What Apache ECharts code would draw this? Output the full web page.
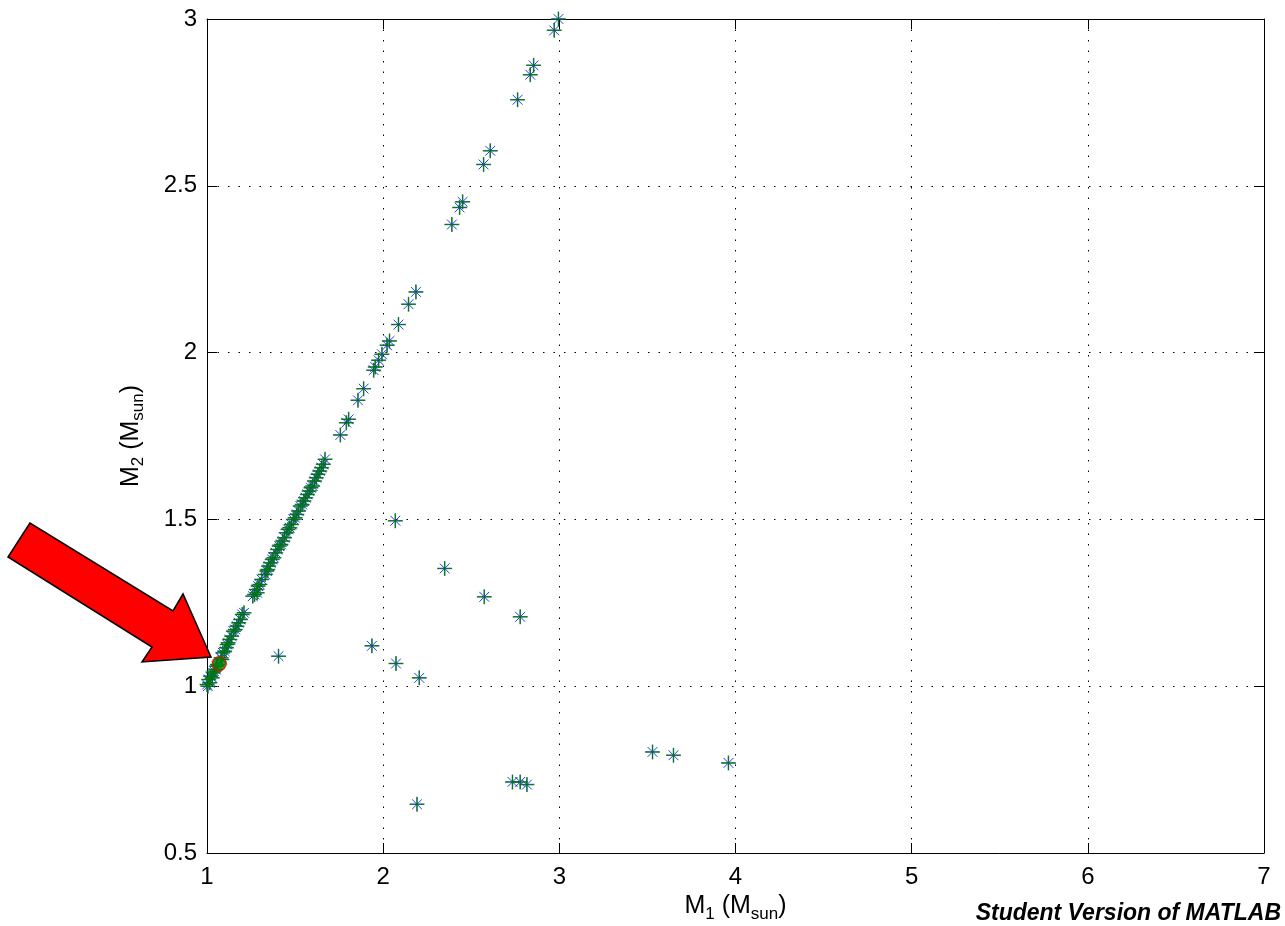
<!DOCTYPE html>
<html>
<head>
<meta charset="utf-8">
<script src="https://cdn.jsdelivr.net/npm/echarts@6/dist/echarts.min.js"></script>
<style>
html,body{margin:0;padding:0;background:#fff;}
#chart{width:1285px;height:926px;}
</style>
</head>
<body>
<div id="chart"></div>
<script>
// ---- data (M1, M2 in solar masses) ----
// dense band near the diagonal M2 ~ M1
var bandM1 = [1.00,1.005,1.01,1.015,1.02,1.03,1.035,1.04,1.05,1.055,1.06,1.08,1.085,1.09,1.10,1.11,1.115,1.12,1.13,1.14,1.15,1.16,1.17,1.18,1.19,1.20,1.21,
              1.26,1.27,1.28,1.285,1.29,1.30,1.31,1.33,1.34,1.345,1.35,1.36,1.37,1.38,1.39,1.40,1.41,1.42,1.43,1.44,1.45,1.46,1.47,1.48,1.49,1.50,1.51,1.52,1.53,1.54,1.55,1.56,1.57,1.58,1.59,1.60,1.61,1.62,1.63,1.64,1.65,1.66,1.67];
var bandM2 = [1.005,1.00,1.02,1.01,1.03,1.025,1.04,1.045,1.05,1.06,1.065,1.085,1.08,1.10,1.105,1.115,1.125,1.13,1.14,1.15,1.165,1.17,1.18,1.19,1.20,1.215,1.22,
              1.27,1.275,1.29,1.28,1.30,1.305,1.32,1.335,1.345,1.35,1.36,1.37,1.38,1.385,1.40,1.41,1.42,1.425,1.435,1.445,1.46,1.47,1.475,1.485,1.50,1.505,1.515,1.525,1.54,1.545,1.555,1.565,1.575,1.585,1.595,1.60,1.615,1.625,1.635,1.645,1.655,1.665,1.68];
// sparse points continuing the diagonal
var diagM1 = [2.995,2.971,2.854,2.835,2.763,2.608,2.570,2.451,2.434,2.390,2.186,2.144,2.087,2.036,2.022,1.993,1.974,1.955,1.946,1.889,1.857,1.804,1.791,1.757];
var diagM2 = [3.000,2.966,2.861,2.833,2.758,2.605,2.564,2.452,2.435,2.384,2.182,2.145,2.084,2.035,2.022,1.995,1.977,1.957,1.947,1.892,1.857,1.800,1.790,1.753];
// points off the diagonal
var offM1 = [1.406,1.936,2.069,2.349,2.574,2.778,2.073,2.205,2.734,2.778,2.816,2.192,3.529,3.648,3.960];
var offM2 = [1.090,1.121,1.496,1.353,1.268,1.208,1.068,1.025,0.713,0.713,0.705,0.646,0.803,0.793,0.770];
// highlighted system
var markM1 = [1.07];
var markM2 = [1.068];

var xTicks = {min: 1, max: 7, interval: 1};
var yTicks = {min: 0.5, max: 3, interval: 0.5};

// ---- build ----
function pairs(a, b) { var r = []; for (var i = 0; i < a.length; i++) r.push([a[i], b[i]]); return r; }
var allPts = pairs(bandM1, bandM2).concat(pairs(diagM1, diagM2)).concat(pairs(offM1, offM2));

var FONT = '"Liberation Sans", Arial, Helvetica, sans-serif';
var gridLine = {show: true, lineStyle: {color: '#000', width: 1, type: [1.5, 9]}};
var axLine = {show: true, lineStyle: {color: '#000', width: 1}};
var tick = {show: true, inside: true, length: 10, lineStyle: {color: '#000', width: 1}};
var nameRich = {
  a: {fontSize: 25, fontFamily: FONT, color: '#000', lineHeight: 32},
  s: {fontSize: 17, fontFamily: FONT, color: '#000', lineHeight: 12, verticalAlign: 'bottom'}
};

var chart = echarts.init(document.getElementById('chart'), null, {renderer: 'canvas'});
chart.setOption({
  animation: false,
  backgroundColor: '#fff',
  grid: {left: 207, right: 21, top: 19, bottom: 73, show: false, containLabel: false, outerBoundsMode: 'none'},
  xAxis: [
    {type: 'value', min: xTicks.min, max: xTicks.max, interval: xTicks.interval, position: 'bottom',
     axisLine: axLine, axisTick: tick, splitLine: gridLine,
     axisLabel: {color: '#000', fontSize: 24, fontFamily: FONT, margin: 12},
     name: '{a|M}{s|1}{a| (M}{s|sun}{a|)}', nameLocation: 'middle', nameGap: 32,
     nameTextStyle: {rich: nameRich}},
    {type: 'value', min: xTicks.min, max: xTicks.max, interval: xTicks.interval, position: 'top',
     axisLine: axLine, axisTick: tick, splitLine: {show: false}, axisLabel: {show: false}}
  ],
  yAxis: [
    {type: 'value', min: yTicks.min, max: yTicks.max, interval: yTicks.interval, position: 'left',
     axisLine: axLine, axisTick: tick, splitLine: gridLine,
     axisLabel: {color: '#000', fontSize: 24, fontFamily: FONT, margin: 10},
     name: '{a|M}{s|2}{a| (M}{s|sun}{a|)}', nameLocation: 'middle', nameGap: 60, nameRotate: 90,
     nameTextStyle: {rich: nameRich}},
    {type: 'value', min: yTicks.min, max: yTicks.max, interval: yTicks.interval, position: 'right',
     axisLine: axLine, axisTick: tick, splitLine: {show: false}, axisLabel: {show: false}}
  ],
  series: [
    {type: 'scatter', name: 'star', data: allPts, silent: true,
     symbol: 'path://M0,-10L0,10M-10,0L10,0M-7,-7L7,7M-7,7L7,-7', symbolSize: 14,
     itemStyle: {color: 'none', borderColor: '#0000ff', borderWidth: 1}, z: 3},
    {type: 'scatter', name: 'plus', data: allPts, silent: true,
     symbol: 'path://M0,-10L0,10M-10,0L10,0', symbolSize: 15,
     itemStyle: {color: 'none', borderColor: '#008000', borderWidth: 1.5}, z: 4},
    {type: 'scatter', name: 'mark', data: pairs(markM1, markM2), silent: true,
     symbol: 'circle', symbolSize: 14,
     itemStyle: {color: '#008000', borderColor: '#ff0000', borderWidth: 1.2}, z: 5}
  ],
  graphic: [
    {type: 'polygon', z: 100,
     shape: {points: [[30,523],[8,557],[152,647],[142,662],[211,657],[183,594],[173,611]]},
     style: {fill: '#ff0000', stroke: '#000', lineWidth: 1.5}},
    {type: 'text', z: 100, x: 1281, y: 914,
     style: {text: 'Student Version of MATLAB', fill: '#000', align: 'right', verticalAlign: 'middle',
             font: 'italic bold 23px ' + FONT}}
  ]
});
</script>
</body>
</html>
